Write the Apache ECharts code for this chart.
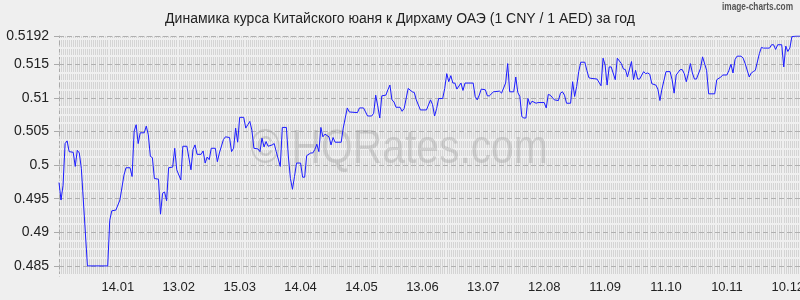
<!DOCTYPE html>
<html><head><meta charset="utf-8">
<script src="https://cdn.jsdelivr.net/npm/echarts@6/dist/echarts.min.js"></script>
<style>html,body{margin:0;padding:0;background:#efefef}#c{width:800px;height:300px}</style>
</head><body><div id="c"></div>
<script>
const titleText = 'Динамика курса Китайского юаня к Дирхаму ОАЭ (1 CNY / 1 AED) за год';
const sourceText = 'image-charts.com';
const watermarkText = '© HQRates.com';

const days = [0,1,2,3,4,5,7,8,9,10,11,14,24,25,26,28,30,32,33,35,36,37,38,39,40,42,43,44,45,46,47,49,50,51,52,53,54,56,57,58,60,61,63,65,66,67,68,70,71,72,73,74,75,77,78,79,81,82,84,85,86,87,88,89,91,92,93,94,95,96,98,99,100,101,102,103,105,106,107,109,110,112,113,114,115,116,117,119,120,121,122,124,125,126,127,128,129,130,131,133,134,135,136,139,140,142,143,147,148,150,151,152,154,155,156,157,158,159,161,162,163,164,165,166,168,169,170,172,174,175,176,178,181,183,184,185,186,187,189,190,191,192,193,194,195,196,198,199,200,204,205,206,207,208,210,211,212,214,217,218,220,221,222,224,225,226,227,228,229,230,231,232,233,235,236,239,240,241,242,244,246,247,248,249,250,252,253,254,255,256,257,259,260,261,262,265,267,268,269,270,271,272,274,275,277,278,279,280,282,283,284,285,286,288,289,290,291,292,294,295,296,297,299,301,302,303,304,306,307,308,309,310,311,312,313,314,316,317,319,320,323,324,326,327,329,330,331,332,333,334,336,337,338,340,341,342,343,345,346,347,350,351,352,353,354,356,357,358,359,360,361,363,365];
const rates = [0.4974,0.4948,0.4970,0.5032,0.5036,0.5020,0.5019,0.4998,0.5022,0.5018,0.4995,0.4850,0.4850,0.4918,0.4932,0.4933,0.4948,0.4985,0.4996,0.4996,0.4983,0.5050,0.5060,0.5032,0.5048,0.5048,0.5058,0.5045,0.5013,0.5011,0.4980,0.4979,0.4927,0.4958,0.4960,0.4947,0.4996,0.4997,0.5025,0.4993,0.4978,0.5028,0.5028,0.4993,0.5023,0.5030,0.5016,0.5016,0.5021,0.5003,0.5012,0.5008,0.5025,0.5025,0.5005,0.5018,0.5038,0.5042,0.5041,0.5020,0.5025,0.5055,0.5034,0.5071,0.5071,0.5055,0.5060,0.5065,0.5052,0.5025,0.5024,0.5020,0.5040,0.5027,0.5035,0.5028,0.5030,0.5032,0.5020,0.4998,0.5056,0.5056,0.5012,0.4980,0.4964,0.4983,0.5003,0.5003,0.4982,0.4982,0.5014,0.5018,0.5018,0.5023,0.5031,0.5020,0.5056,0.5042,0.5046,0.5042,0.5030,0.5041,0.5034,0.5034,0.5055,0.5085,0.5079,0.5078,0.5085,0.5085,0.5079,0.5073,0.5073,0.5077,0.5104,0.5088,0.5070,0.5103,0.5104,0.5112,0.5119,0.5097,0.5094,0.5086,0.5086,0.5080,0.5084,0.5114,0.5109,0.5108,0.5097,0.5082,0.5082,0.5097,0.5090,0.5073,0.5084,0.5099,0.5099,0.5114,0.5136,0.5124,0.5133,0.5122,0.5122,0.5113,0.5122,0.5111,0.5122,0.5122,0.5102,0.5097,0.5104,0.5113,0.5112,0.5103,0.5103,0.5109,0.5110,0.5107,0.5122,0.5151,0.5109,0.5109,0.5131,0.5108,0.5102,0.5072,0.5070,0.5070,0.5099,0.5090,0.5095,0.5092,0.5093,0.5093,0.5085,0.5105,0.5104,0.5097,0.5096,0.5107,0.5109,0.5104,0.5092,0.5092,0.5124,0.5102,0.5117,0.5139,0.5153,0.5153,0.5141,0.5130,0.5129,0.5128,0.5118,0.5159,0.5149,0.5119,0.5146,0.5146,0.5127,0.5159,0.5151,0.5143,0.5142,0.5131,0.5154,0.5127,0.5141,0.5128,0.5128,0.5139,0.5136,0.5137,0.5135,0.5121,0.5119,0.5113,0.5096,0.5113,0.5139,0.5139,0.5127,0.5107,0.5134,0.5142,0.5142,0.5136,0.5124,0.5136,0.5151,0.5137,0.5128,0.5128,0.5144,0.5161,0.5141,0.5106,0.5106,0.5127,0.5131,0.5134,0.5134,0.5141,0.5150,0.5137,0.5157,0.5162,0.5162,0.5159,0.5151,0.5131,0.5137,0.5139,0.5141,0.5166,0.5175,0.5174,0.5174,0.5179,0.5179,0.5172,0.5179,0.5179,0.5146,0.5177,0.5169,0.5174,0.5191,0.5192,0.5192];

const xTickDays = [29,59,89,119,149,179,209,239,269,299,329,359];
const xTickLabels = ['14.01','13.02','15.03','14.04','14.05','13.06','13.07','12.08','11.09','11.10','10.11','10.12'];
const yTickValues = [0.485,0.49,0.495,0.5,0.505,0.51,0.515,0.5192];
const yTickLabels = ['0.485','0.49','0.495','0.5','0.505','0.51','0.515','0.5192'];
const yMin = 0.4835, yMax = 0.5192, xMin = 0, xMax = 365;
const minorStep = 0.00125;

const minorVals = [];
for (let k = -1; k < 30; k++) {
  const v = Math.round((0.485 + k * minorStep) * 1e5) / 1e5;
  if (v > yMax - 0.0003) break;
  if (k % 4 !== 0) minorVals.push(v);
}

const gapStyle = {color: '#efefef', width: 2, type: 'solid', opacity: 1};
const majorStyle = {color: '#b0b0b0', width: 1, type: [5, 3], opacity: 1};
const gridLines = minorVals.map(v => ({yAxis: v, lineStyle: gapStyle}))
  .concat(yTickValues.map(v => ({yAxis: v, lineStyle: majorStyle})));

const chart = echarts.init(document.getElementById('c'), null, {renderer: 'canvas'});
const font = 'Liberation Sans, Arial, sans-serif';
chart.setOption({
  backgroundColor: '#efefef',
  animation: false,
  title: {
    text: titleText, left: 'center', top: 12, padding: 0,
    textStyle: {fontFamily: font, fontSize: 14, fontWeight: 'normal', color: '#222'}
  },
  graphic: [
    {type: 'text', x: 722, y: 7, scaleX: 0.83, z: 10, silent: true,
     style: {text: sourceText, fontFamily: font, fontSize: 10, fontWeight: 'bold', fill: '#555', align: 'left', verticalAlign: 'middle'}},
    {type: 'text', x: 399, y: 150, scaleX: 0.85, z: 4, silent: true,
     style: {text: watermarkText, fontFamily: font, fontSize: 48, fill: 'rgba(150,150,150,0.34)', align: 'center', verticalAlign: 'middle'}}
  ],
  grid: {left: 59, right: 0, top: 36, bottom: 24, containLabel: false, outerBoundsMode: 'none'},
  xAxis: {
    type: 'value', min: xMin, max: xMax, interval: 1,
    axisLine: {show: false}, axisTick: {show: false},
    splitLine: {show: true, lineStyle: {color: '#d4d4d4', width: 1}},
    axisLabel: {
      customValues: xTickDays, margin: 5, hideOverlap: false,
      fontFamily: font, fontSize: 13, color: '#222',
      formatter: v => { const i = xTickDays.indexOf(Math.round(v)); return i >= 0 ? xTickLabels[i] : ''; }
    }
  },
  yAxis: {
    type: 'value', min: yMin, max: yMax,
    axisLine: {show: true, lineStyle: {color: '#aaa', type: [4, 3]}},
    axisTick: {show: true, customValues: yTickValues, length: 5, lineStyle: {color: '#aaa'}},
    splitLine: {show: false},
    axisLabel: {
      customValues: yTickValues, margin: 10,
      fontFamily: font, fontSize: 14, color: '#222',
      formatter: v => { const i = yTickValues.findIndex(t => Math.abs(t - v) < 1e-7); return i >= 0 ? yTickLabels[i] : ''; }
    }
  },
  series: [
    {
      type: 'line', z: 6, showSymbol: false, symbol: 'none',
      data: days.map((d, i) => [d, rates[i]]),
      lineStyle: {color: '#1c1cff', width: 1},
      markLine: {
        z: 2, silent: true, symbol: 'none', label: {show: false},
        precision: 5,
        data: gridLines
      }
    }
  ]
});
</script></body></html>
